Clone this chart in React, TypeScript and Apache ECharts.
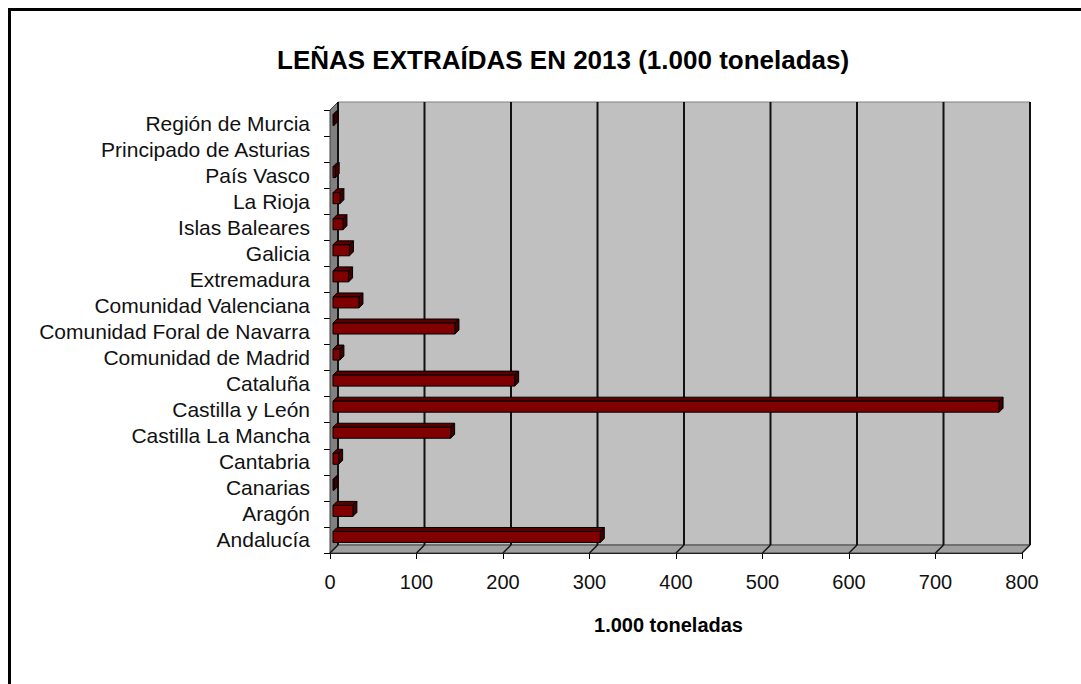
import React, { useEffect, useRef } from "react";
import * as echarts from "echarts";

const categories = [
  "Andalucía",
  "Aragón",
  "Canarias",
  "Cantabria",
  "Castilla La Mancha",
  "Castilla y León",
  "Cataluña",
  "Comunidad de Madrid",
  "Comunidad Foral de Navarra",
  "Comunidad Valenciana",
  "Extremadura",
  "Galicia",
  "Islas Baleares",
  "La Rioja",
  "País Vasco",
  "Principado de Asturias",
  "Región de Murcia",
];

const values = [309, 23, 1, 6.5, 136, 770, 210, 8, 141, 30, 18, 19, 11.5, 8, 2.5, 0, 1];

const xTicks = [0, 100, 200, 300, 400, 500, 600, 700, 800];

const titleText = "LEÑAS EXTRAÍDAS EN 2013 (1.000 toneladas)";
const xAxisName = "1.000 toneladas";

const FONT = "'Liberation Sans', Arial, sans-serif";

export default function App() {
  const ref = useRef<HTMLDivElement>(null);

  useEffect(() => {
    document.body.style.margin = "0";
    document.body.style.overflow = "hidden";
    const chart = echarts.init(ref.current as HTMLDivElement, null, { renderer: "svg" });
    const D = 8;

    const option: any = {
      animation: false,
      backgroundColor: "#ffffff",
      title: {
        text: titleText,
        left: 272,
        top: 42,
        textStyle: { fontFamily: FONT, fontSize: 26, fontWeight: "bold", color: "#000" },
      },
      graphic: [
        {
          type: "rect",
          shape: { x: 9.5, y: 9.5, width: 1200, height: 800 },
          style: { fill: "none", stroke: "#000", lineWidth: 3 },
          silent: true,
        },
      ],
      grid: { left: 330, right: 59, top: 110, bottom: 131, containLabel: false },
      xAxis: {
        type: "value",
        min: 0,
        max: 800,
        interval: 100,
        axisLine: { show: true, lineStyle: { color: "#000", width: 1 } },
        axisTick: { show: true, length: 6, lineStyle: { color: "#000" } },
        splitLine: { show: false },
        axisLabel: { fontFamily: FONT, fontSize: 20, color: "#111", margin: 19 },
        name: xAxisName,
        nameLocation: "middle",
        nameGap: 62,
        nameTextStyle: {
          fontFamily: FONT,
          fontSize: 20,
          fontWeight: "bold",
          color: "#000",
          padding: [0, 15, 0, 0],
        },
      },
      yAxis: {
        type: "category",
        data: categories,
        axisLine: { show: true, lineStyle: { color: "#000", width: 1 } },
        axisTick: { show: true, length: 6, interval: 0, lineStyle: { color: "#000" } },
        splitLine: { show: false },
        axisLabel: { fontFamily: FONT, fontSize: 21, color: "#111", margin: 20, interval: 0 },
      },
      series: [
        {
          type: "custom",
          silent: true,
          z: 1,
          data: [[0, 0]],
          encode: { x: 0, y: 1 },
          renderItem: (params: any, api: any) => {
            const cs = params.coordSys;
            const x = cs.x;
            const y = cs.y;
            const w = cs.width;
            const h = cs.height;
            const children: any[] = [];
            children.push({
              type: "rect",
              shape: { x: x + D, y: y - D, width: w, height: h },
              style: { fill: "#c0c0c0", stroke: "#808080", lineWidth: 1 },
            });
            children.push({
              type: "polygon",
              shape: { points: [[x, y], [x + D, y - D], [x + D, y + h - D], [x, y + h]] },
              style: { fill: "#808080", stroke: "#404040", lineWidth: 1 },
            });
            children.push({
              type: "polygon",
              shape: {
                points: [[x, y + h], [x + D, y + h - D], [x + w + D, y + h - D], [x + w, y + h]],
              },
              style: { fill: "#a0a0a0", stroke: "#404040", lineWidth: 1 },
            });
            xTicks.forEach((t) => {
              const px = api.coord([t, 0])[0];
              children.push({
                type: "line",
                shape: { x1: px + D, y1: y - D, x2: px + D, y2: y + h - D },
                style: { stroke: "#111", lineWidth: 2 },
              });
              children.push({
                type: "line",
                shape: { x1: px, y1: y + h, x2: px + D, y2: y + h - D },
                style: { stroke: "#111", lineWidth: 1.5 },
              });
            });
            return { type: "group", children };
          },
        },
        {
          type: "custom",
          z: 2,
          data: values.map((v, i) => [v, i]),
          encode: { x: 0, y: 1 },
          renderItem: (params: any, api: any) => {
            const v = api.value(0);
            const idx = api.value(1);
            const s = api.coord([0, idx]);
            const e = api.coord([v, idx]);
            const O = 3;
            const H = 11;
            const P = 4;
            const w = e[0] - s[0];
            if (!(w > 0)) return { type: "group", children: [] };
            const x0 = s[0] + O;
            const y0 = s[1] - O - H / 2;
            const stroke = { stroke: "#000", lineWidth: 1 };
            return {
              type: "group",
              children: [
                {
                  type: "polygon",
                  shape: { points: [[x0, y0], [x0 + P, y0 - P], [x0 + w + P, y0 - P], [x0 + w, y0]] },
                  style: { fill: "#5a0000", ...stroke },
                },
                {
                  type: "polygon",
                  shape: {
                    points: [[x0 + w, y0], [x0 + w + P, y0 - P], [x0 + w + P, y0 + H - P], [x0 + w, y0 + H]],
                  },
                  style: { fill: "#400000", ...stroke },
                },
                {
                  type: "rect",
                  shape: { x: x0, y: y0, width: w, height: H },
                  style: { fill: "#800000", ...stroke },
                },
              ],
            };
          },
        },
      ],
    };

    chart.setOption(option);
    return () => {
      chart.dispose();
    };
  }, []);

  return <div ref={ref} style={{ width: 1081, height: 684 }} />;
}
